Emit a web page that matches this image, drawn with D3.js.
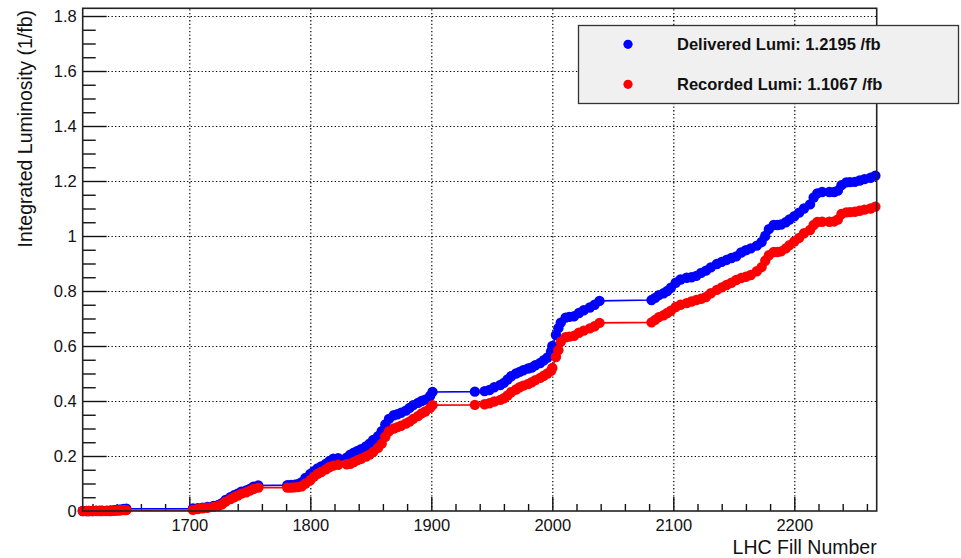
<!DOCTYPE html>
<html>
<head>
<meta charset="utf-8">
<script src="https://cdn.jsdelivr.net/npm/d3@7"></script>
<style>
  body { margin: 0; background: #fff; }
  svg text { font-family: "Liberation Sans", Arial, Helvetica, sans-serif; fill: #111; }
</style>
</head>
<body>
<div id="chart"></div>
<script>
// LHC fill numbers with cumulative integrated luminosity (1/fb)
const fills = [
    1612, 1615, 1617, 1620, 1623, 1626, 1628,
    1632, 1635, 1638, 1640, 1642, 1644, 1646, 1648,
    1703, 1707, 1711, 1715, 1720, 1724, 1727, 1730, 1734, 1737, 1740, 1743, 1747, 1750, 1753, 1757,
    1781, 1784, 1787, 1790,
    1793, 1796, 1800, 1803, 1806, 1809, 1813, 1816, 1819, 1823,
    1830, 1833, 1836, 1839, 1842, 1846, 1849, 1852, 1856, 1859, 1862, 1865, 1869, 1872, 1875,
    1879, 1882, 1885, 1889, 1892, 1895, 1899, 1901,
    1936, 1944, 1948, 1952, 1957, 1960, 1963, 1966, 1970, 1973, 1976, 1980, 1983, 1986, 1990,
    1993, 1996, 1999, 2000, 2003, 2005, 2007, 2011, 2014, 2018, 2022, 2026, 2031, 2035, 2039,
    2082, 2085, 2088, 2092, 2095, 2098, 2102, 2106, 2111, 2115, 2119, 2123, 2127, 2131, 2136,
    2140, 2144, 2148, 2152, 2156, 2160, 2164, 2169, 2173, 2176, 2179, 2183, 2186, 2189, 2193,
    2196, 2200, 2204, 2208, 2213, 2216, 2219, 2223,
    2229, 2233, 2236, 2239, 2243, 2246, 2250, 2254, 2258, 2263, 2267
];

const delivered = [
    0, 0, 0, 0, 0.001, 0.001, 0.001,
    0.001, 0.002, 0.003, 0.004, 0.005, 0.006, 0.007, 0.008,
    0.009, 0.01, 0.012, 0.015, 0.018, 0.022, 0.028, 0.04, 0.05, 0.057, 0.063, 0.07, 0.075, 0.08, 0.088, 0.093,
    0.094, 0.095, 0.096, 0.098,
    0.105, 0.12, 0.135, 0.145, 0.155, 0.162, 0.172, 0.182, 0.19, 0.192,
    0.194, 0.205, 0.212, 0.218, 0.225, 0.235, 0.245, 0.258, 0.272, 0.29, 0.315, 0.335, 0.348, 0.352, 0.357,
    0.365, 0.375, 0.385, 0.393, 0.4, 0.405, 0.418, 0.433,
    0.434, 0.436, 0.44, 0.45, 0.458, 0.466, 0.478, 0.49, 0.5, 0.506, 0.512, 0.518, 0.522, 0.53, 0.538,
    0.548, 0.558, 0.58, 0.6, 0.64, 0.665, 0.685, 0.703, 0.706, 0.708, 0.72, 0.73, 0.74, 0.75, 0.764,
    0.767, 0.775, 0.785, 0.792, 0.8, 0.812, 0.83, 0.842, 0.848, 0.85, 0.855, 0.866, 0.874, 0.886, 0.898,
    0.906, 0.913, 0.92, 0.926, 0.94, 0.948, 0.955, 0.965, 0.978, 1.0, 1.025, 1.04, 1.04, 1.042, 1.05,
    1.06, 1.072, 1.085, 1.1, 1.115, 1.14, 1.155, 1.16,
    1.16, 1.16, 1.165, 1.185, 1.195, 1.196, 1.197, 1.202, 1.207, 1.212, 1.2195
];

const recorded = [
    0, 0, 0, 0, 0, 0, 0,
    0, 0, 0.001, 0.002, 0.002, 0.003, 0.003, 0.003,
    0.004, 0.007, 0.01, 0.012, 0.015, 0.018, 0.024, 0.034, 0.043, 0.05, 0.056, 0.063, 0.068, 0.074, 0.08, 0.085,
    0.085, 0.085, 0.086, 0.087,
    0.09, 0.1, 0.112, 0.125, 0.135, 0.142, 0.152, 0.16, 0.165, 0.168,
    0.17, 0.172, 0.178, 0.185, 0.19, 0.198, 0.205, 0.215, 0.23, 0.245, 0.27, 0.29, 0.3, 0.305, 0.31,
    0.318, 0.325, 0.335, 0.345, 0.355, 0.362, 0.375, 0.385,
    0.386, 0.388, 0.392, 0.398, 0.404, 0.41, 0.42, 0.432, 0.442, 0.45, 0.456, 0.462, 0.468, 0.476, 0.484,
    0.492, 0.5, 0.51, 0.52, 0.56, 0.585, 0.615, 0.632, 0.634, 0.637, 0.648, 0.656, 0.664, 0.672, 0.684,
    0.686, 0.695, 0.705, 0.712, 0.72, 0.728, 0.742, 0.75, 0.756, 0.762, 0.767, 0.772, 0.778, 0.792, 0.804,
    0.813, 0.822, 0.83, 0.84, 0.847, 0.852, 0.858, 0.872, 0.887, 0.91, 0.93, 0.942, 0.942, 0.944, 0.955,
    0.967, 0.98, 0.993, 1.01, 1.022, 1.04, 1.051, 1.052,
    1.052, 1.053, 1.06, 1.08, 1.086, 1.087, 1.088, 1.092, 1.096, 1.1, 1.1067
];

const seriesNames = ['Delivered Lumi: 1.2195 /fb', 'Recorded Lumi: 1.1067 /fb'];
const seriesColors = ['#0000ff', '#ff0000'];
const xMajorTicks = [1700, 1800, 1900, 2000, 2100, 2200];
const yMajorTicks = [0, 0.2, 0.4, 0.6, 0.8, 1, 1.2, 1.4, 1.6, 1.8];
const yTickLabels = ['0', '0.2', '0.4', '0.6', '0.8', '1', '1.2', '1.4', '1.6', '1.8'];

const W = 961, H = 558;
const margin = { top: 8.3, right: 84.3, bottom: 47, left: 82.7 };
const width = W - margin.left - margin.right;
const height = H - margin.top - margin.bottom;

const svg = d3.select('#chart')
    .append('svg')
        .attr('width', W)
        .attr('height', H)
    .append('g')
        .attr('transform', 'translate(' + margin.left + ',' + margin.top + ')');

const x = d3.scaleLinear().domain([1611.9, 2268.1]).range([0, width]);
const y = d3.scaleLinear().domain([0, 1.828]).range([height, 0]);

// dotted grid at the major ticks
svg.append('g')
    .attr('class', 'grid')
    .attr('transform', 'translate(0,' + height + ')')
    .call(d3.axisBottom(x).tickValues(xMajorTicks).tickSize(-height).tickFormat(''));
svg.append('g')
    .attr('class', 'grid')
    .call(d3.axisLeft(y).tickValues(yMajorTicks.slice(1)).tickSize(-width).tickFormat(''));
svg.selectAll('.grid .domain').remove();
svg.selectAll('.grid line')
    .attr('stroke', '#000')
    .attr('stroke-width', 1.2)
    .attr('stroke-dasharray', '1.3,2.3');

// minor ticks
const xMinor = d3.range(1620, 2268, 20).filter(v => v % 100 !== 0);
const yMinor = d3.range(0.05, 1.83, 0.05).filter(v => Math.abs(v / 0.2 - Math.round(v / 0.2)) > 0.01);

svg.append('g')
    .attr('class', 'axis minor')
    .attr('transform', 'translate(0,' + height + ')')
    .call(d3.axisBottom(x).tickValues(xMinor).tickSize(-7).tickFormat(''));
svg.append('g')
    .attr('class', 'axis minor')
    .call(d3.axisLeft(y).tickValues(yMinor).tickSize(-13).tickFormat(''));

// major ticks with labels
svg.append('g')
    .attr('class', 'axis xmajor')
    .attr('transform', 'translate(0,' + height + ')')
    .call(d3.axisBottom(x).tickValues(xMajorTicks).tickSize(-14).tickPadding(0).tickFormat(d3.format('d')));
svg.selectAll('.xmajor text').attr('y', 20).attr('dy', 0);

svg.append('g')
    .attr('class', 'axis ymajor')
    .call(d3.axisLeft(y).tickValues(yMajorTicks).tickSize(-24).tickPadding(6)
        .tickFormat((d, i) => yTickLabels[i]));

svg.selectAll('.axis .domain').remove();
svg.selectAll('.axis line').attr('stroke', '#111').attr('stroke-width', 1.4);
svg.selectAll('.axis text')
    .style('font-size', '16.5px')
    .style('font-family', '"Liberation Sans", Arial, sans-serif')
    .attr('fill', '#111');

// series
const series = [delivered, recorded];
const line = d3.line()
    .x((d, i) => x(fills[i]))
    .y(d => y(d));

series.forEach((vals, s) => {
    const g = svg.append('g').attr('class', 'series s' + s);
    g.append('path')
        .datum(vals)
        .attr('fill', 'none')
        .attr('stroke', seriesColors[s])
        .attr('stroke-width', 1.6)
        .attr('d', line);
    g.selectAll('circle')
        .data(vals)
        .enter().append('circle')
            .attr('cx', (d, i) => x(fills[i]))
            .attr('cy', d => y(d))
            .attr('r', 5.2)
            .attr('fill', seriesColors[s]);
});

// frame
svg.append('rect')
    .attr('x', 0)
    .attr('y', 0)
    .attr('width', width)
    .attr('height', height)
    .attr('fill', 'none')
    .attr('stroke', '#222')
    .attr('stroke-width', 1.6);

// axis titles
svg.append('text')
    .attr('x', width)
    .attr('y', height + 43)
    .attr('text-anchor', 'end')
    .style('font-size', '19.5px')
    .text('LHC Fill Number');

svg.append('text')
    .attr('transform', 'translate(' + (32 - margin.left) + ',' + 1.7 + ') rotate(-90)')
    .attr('text-anchor', 'end')
    .style('font-size', '19.5px')
    .text('Integrated Luminosity (1/fb)');

// legend (in page coordinates)
const legend = d3.select('#chart svg').append('g').attr('class', 'legend');
legend.append('rect')
    .attr('x', 578.5)
    .attr('y', 25.5)
    .attr('width', 380)
    .attr('height', 78)
    .attr('fill', '#f0f0f0')
    .attr('stroke', '#333')
    .attr('stroke-width', 1.3);

seriesNames.forEach((name, i) => {
    legend.append('circle')
        .attr('cx', 628)
        .attr('cy', 44.3 + i * 40)
        .attr('r', 4.6)
        .attr('fill', seriesColors[i]);
    legend.append('text')
        .attr('x', 677)
        .attr('y', 50 + i * 40)
        .style('font-size', '16.5px')
        .style('font-weight', 'bold')
        .text(name);
});
</script>
</body>
</html>
